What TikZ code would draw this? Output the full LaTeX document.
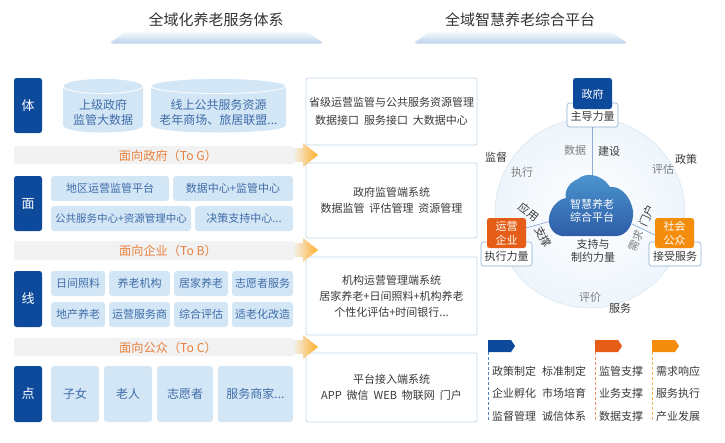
\documentclass[tikz,border=0pt]{standalone}
\usepackage{fontspec}
\setmainfont{Noto Sans CJK SC}
\usetikzlibrary{positioning,shadings}
\definecolor{navy}{HTML}{0D4A9C}
\definecolor{pale}{HTML}{D3E6F6}
\definecolor{paletext}{HTML}{3F6CA8}
\definecolor{edgeb}{HTML}{C4D8E8}
\definecolor{darkt}{HTML}{3A3A3A}
\definecolor{grayt}{HTML}{7E7E7E}
\definecolor{oranget}{HTML}{E8803E}
\definecolor{tagred}{HTML}{E65D17}
\definecolor{tagor}{HTML}{F48C0C}
\definecolor{cloudA}{HTML}{4C97D0}
\definecolor{cloudB}{HTML}{2E5DA8}
\newcommand{\fs}[1]{\fontsize{#1}{#1}\selectfont}
\tikzset{
  x=1pt,y=-1pt,
  every node/.style={inner sep=0pt,outer sep=0pt,align=center,text=darkt,font=\fs{11}},
  sidebox/.style={fill=navy,rounded corners=2.5pt,text=white,font=\fs{13}},
  cell/.style={fill=pale,rounded corners=3pt,text=paletext,font=\fs{11}},
  bigcell/.style={cell,font=\fs{12}},
  panel/.style={draw=edgeb,line width=.7pt,fill=white,rounded corners=2pt,font=\fs{11},align=center},
  band/.style={fill=black!5},
  bandtext/.style={text=oranget,font=\fs{12.2}},
  title/.style={font=\fs{15},text=black!80},
  cyltext/.style={text=paletext,font=\fs{12},align=center},
  lab/.style={draw=edgeb!70!navy,line width=.6pt,fill=white,rounded corners=2.5pt},
  actor/.style={rounded corners=2.5pt,text=white,font=\fs{11},align=center},
  graylab/.style={text=grayt,font=\fs{11}},
  darklab/.style={text=darkt,font=\fs{11}},
  link/.style={draw=edgeb!70!navy,line width=.7pt},
  legendtext/.style={text=darkt,font=\fs{11}},
}
\newcommand{\cellbox}[7][cell]{% style,name,x1,y1,x2,y2,text
  \node[#1,minimum width=#5pt-#3pt,minimum height=#6pt-#4pt,anchor=north west] (#2) at (#3,#4) {#7};}
\newcommand{\cylinder}[4]{% x1,x2,name,midx
  \fill[pale] (#1,86) -- (#1,125) .. controls (#1,135) and (#2,135) .. (#2,125) -- (#2,86) -- cycle;
  \draw[white,line width=.8pt,fill=pale] (#4,86) ellipse ({(#2-#1)/2} and 7.5);
}
\newcommand{\tagflag}[4]{% name,x,color,bottom
  \draw[#3!70,densely dashed,line width=.6pt] (#2,352) -- (#2,#4);
  \fill[#3] (#2,340) -- ++(23,0) -- ++(4,6) -- ++(-4,6) -- ++(-23,0) -- cycle;
  \coordinate (#1) at (#2,340);
}
\newcommand{\bandarrow}[1]{%
  \shade[left color=black!5,right color=orange!75!yellow!85!white,shading angle=90]
   (293,#1-7) -- (303,#1-7) -- (303,#1-12) -- (318,#1) -- (303,#1+12) -- (303,#1+7) -- (293,#1+7) -- cycle;
}
\begin{document}
\begin{tikzpicture}
\useasboundingbox (0,0) rectangle (725,442);
\fill[white] (0,0) rectangle (725,442);
% titles
\node[title] (t1) at (216,20) {全域化养老服务体系};
\node[title] (t2) at (520,20) {全域智慧养老综合平台};
\shade[top color=white,bottom color=pale!85!navy!90!white] (128,30) -- (304,30) -- (322,42) -- (321,43.5) -- (112,43.5) -- (111,42) -- cycle;
\shade[top color=white,bottom color=pale!85!navy!90!white] (432,30) -- (608,30) -- (626,42) -- (625,43.5) -- (416,43.5) -- (415,42) -- cycle;
% right panels
\cellbox[panel]{p1}{306}{78}{477}{145}{\raisebox{-1pt}{\shortstack{省级运营监管与公共服务资源管理\\[5pt]数据接口\ \ 服务接口\ \ 大数据中心}}}
\cellbox[panel]{p2}{306}{163}{477}{238}{政府监管端系统\\[5pt]数据监管\ \ 评估管理\ \ 资源管理}
\cellbox[panel]{p3}{306}{257}{477}{335}{机构运营管理端系统\\[5pt]居家养老+日间照料+机构养老\\[5pt]个性化评估+时间银行...}
\cellbox[panel]{p4}{306}{353}{477}{422}{平台接入端系统\\[5pt]APP\ \ 微信\ \ WEB\ \ 物联网\ \ 门户}
% side boxes
\cellbox[sidebox]{ti}{14}{78}{42}{133}{体}
\cellbox[sidebox]{mian}{14}{176}{42}{231}{面}
\cellbox[sidebox]{xian}{14}{271}{42}{327}{线}
\cellbox[sidebox]{dian}{14}{366}{42}{422}{点}
% cylinders
\cylinder{63}{143}{c1}{103}
\cylinder{151}{286}{c2}{218.5}
\node[cyltext] (c1t) at (103,112) {上级政府\\[3pt]监管大数据};
\node[cyltext] (c2t) at (218.5,112) {线上公共服务资源\\[3pt]老年商场、旅居联盟...};
% bands
\fill[band,rounded corners=1pt] (14,146) rectangle (294,164);
\fill[band,rounded corners=1pt] (14,241) rectangle (294,260);
\fill[band,rounded corners=1pt] (14,338) rectangle (294,356);
\bandarrow{155}
\bandarrow{250}
\bandarrow{347}
\node[bandtext] (b1) at (168,155.5) {面向政府（To G）};
\node[bandtext] (b2) at (168,250.5) {面向企业（To B）};
\node[bandtext] (b3) at (168,347.5) {面向公众（To C）};
% mian cells
\cellbox{m1}{51}{176}{169}{201}{地区运营监管平台}
\cellbox{m2}{173}{176}{293}{201}{数据中心+监管中心}
\cellbox[cell,font=\fs{10.5}]{m3}{51}{206}{191}{231}{公共服务中心+资源管理中心}
\cellbox{m4}{195}{206}{293}{231}{决策支持中心...}
% xian cells
\cellbox{x1}{51}{271}{105}{296}{日间照料}
\cellbox{x2}{109}{271}{170}{296}{养老机构}
\cellbox{x3}{174}{271}{228}{296}{居家养老}
\cellbox{x4}{232}{271}{293}{296}{志愿者服务}
\cellbox{x5}{51}{302}{105}{327}{地产养老}
\cellbox{x6}{109}{302}{170}{327}{运营服务商}
\cellbox{x7}{174}{302}{228}{327}{综合评估}
\cellbox{x8}{232}{302}{293}{327}{适老化改造}
% dian cells
\cellbox[bigcell]{d1}{51}{366}{99}{422}{子女}
\cellbox[bigcell]{d2}{104}{366}{152}{422}{老人}
\cellbox[bigcell]{d3}{157}{366}{213}{422}{志愿者}
\cellbox[bigcell]{d4}{218}{366}{293}{422}{服务商家...}
% circle
\shade[inner color=white,outer color=pale!40!white,draw=edgeb!70!white,line width=.5pt] (590,213) circle (95);
% label plates behind the actors
\cellbox[lab]{govl}{567}{103}{618}{127}{}
\cellbox[lab]{entl}{481}{242}{532}{266}{}
\cellbox[lab]{publ}{649}{242}{701}{266}{}
% actors
\cellbox[actor,fill=navy]{gov}{573}{78}{612}{109}{}
\cellbox[actor,fill=tagred]{ent}{487}{218}{526}{248}{}
\cellbox[actor,fill=tagor]{pub}{655}{218}{694}{248}{}
\node[text=white,font=\fs{11}] (govt) at (592.5,94) {政府};
\node[text=white,font=\fs{11},align=center] (entt) at (506.5,233) {运营\\[3pt]企业};
\node[text=white,font=\fs{11},align=center] (pubt) at (674.5,233) {社会\\[3pt]公众};
\node[darklab] (govlt) at (592.5,116.5) {主导力量};
\node[darklab] (entlt) at (506.5,256) {执行力量};
\node[darklab] (publt) at (675,256) {接受服务};
% cloud anchors & connectors
\coordinate (cloudtop) at (592.5,176);
\coordinate (cloudleft) at (551,221);
\coordinate (cloudright) at (632,224);
\draw[link] (govl.south) -- (cloudtop);
\draw[link] (ent.east |- 0,228) -- (cloudleft);
\draw[link] (cloudright) -- (pub.west |- 0,235);
% cloud
\shade[top color=cloudA,bottom color=cloudB] (562,236)
  .. controls (553,235) and (548,226) .. (549,218)
  .. controls (550,208) and (558,199) .. (566,198)
  .. controls (564,190) and (570,182) .. (578,179)
  .. controls (584,173) and (600,172) .. (610,187)
  .. controls (622,186) and (631,198) .. (633,211)
  .. controls (634,224) and (627,236) .. (616,236) -- cycle;
\node[text=white!90!pale,font=\fs{11},align=center] (cloud) at (592,211) {智慧养老\\[2pt]综合平台};
% circle labels
\node[graylab] (l1) at (575,150) {数据};
\node[darklab] (l2) at (609,151) {建设};
\node[graylab] (l3) at (522,172) {执行};
\node[darklab] (l4) at (496,157) {监督};
\node[darklab] (l5) at (686,159) {政策};
\node[graylab] (l6) at (663,169) {评估};
\node[graylab] (l7) at (590,297) {评价};
\node[darklab] (l8) at (620,308) {服务};
\node[darklab,rotate=-38] (l9) at (529,212) {应用};
\node[darklab,rotate=-62] (l10) at (543,237) {支撑};
\node[darklab,rotate=65] (l11) at (647,216) {门户};
\node[graylab,rotate=65] (l12) at (636,241) {需求};
\node[darklab,align=center] (l13) at (593,250.5) {支持与\\[2pt]制约力量};
% legend
\tagflag{f1}{488}{navy}{421}
\tagflag{f2}{595}{tagred}{421}
\tagflag{f3}{652}{tagor}{421}
\foreach \n/\x/\y/\t in {a1/514/371/政策制定,a2/564/371/标准制定,a3/621/371/监管支撑,a4/678/371/需求响应,
  b1x/514/393/企业孵化,b2x/564/393/市场培育,b3x/621/393/业务支撑,b4x/678/393/服务执行,
  e1/514/416/监督管理,e2/564/416/诚信体系,e3/621/416/数据支撑,e4/678/416/产业发展}
  \node[legendtext] (\n) at (\x,\y) {\t};
\end{tikzpicture}
\end{document}
